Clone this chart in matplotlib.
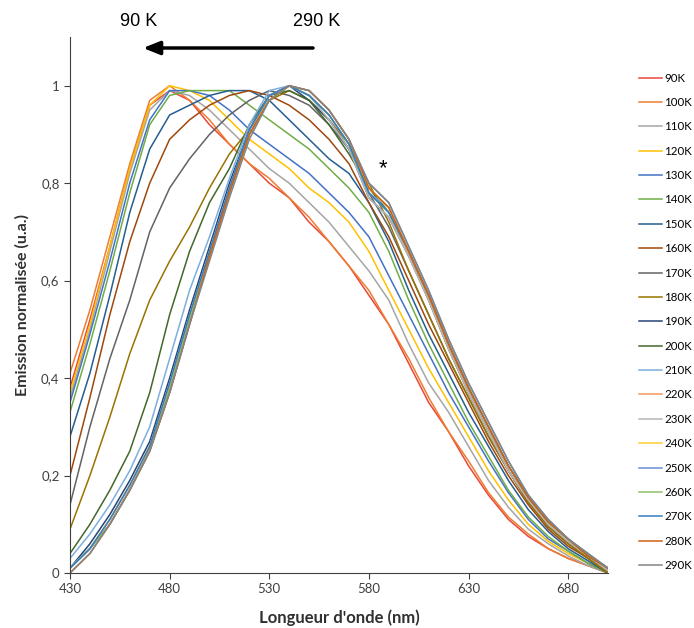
import matplotlib.pyplot as plt

# wavelengths (nm), values every 10 nm
wavelength = [430, 440, 450, 460, 470, 480, 490, 500, 510, 520, 530, 540, 550, 560,
              570, 580, 590, 600, 610, 620, 630, 640, 650, 660, 670, 680, 690, 700]

em_90 = [0.38, 0.52, 0.67, 0.83, 0.96, 0.99, 0.97, 0.92, 0.88, 0.84, 0.80, 0.77, 0.72, 0.68,
         0.63, 0.57, 0.51, 0.43, 0.35, 0.29, 0.22, 0.16, 0.11, 0.075, 0.05, 0.03, 0.015, 0.0]
em_100 = [0.41, 0.54, 0.69, 0.84, 0.97, 1.0, 0.97, 0.93, 0.88, 0.84, 0.81, 0.77, 0.73, 0.68,
          0.63, 0.58, 0.51, 0.44, 0.36, 0.29, 0.23, 0.165, 0.115, 0.08, 0.05, 0.03, 0.015, 0.0]
em_110 = [0.36, 0.50, 0.66, 0.82, 0.95, 0.99, 0.98, 0.95, 0.91, 0.87, 0.83, 0.80, 0.76, 0.72,
          0.67, 0.62, 0.56, 0.47, 0.39, 0.33, 0.26, 0.19, 0.135, 0.09, 0.06, 0.035, 0.015, 0.0]
em_120 = [0.37, 0.51, 0.67, 0.83, 0.96, 1.0, 0.99, 0.97, 0.93, 0.89, 0.86, 0.83, 0.79, 0.76,
          0.72, 0.66, 0.58, 0.50, 0.42, 0.35, 0.28, 0.21, 0.15, 0.10, 0.065, 0.04, 0.02, 0.0]
em_130 = [0.35, 0.49, 0.64, 0.80, 0.93, 0.99, 0.99, 0.98, 0.95, 0.91, 0.88, 0.85, 0.82, 0.78,
          0.74, 0.69, 0.61, 0.53, 0.45, 0.37, 0.30, 0.23, 0.165, 0.11, 0.07, 0.045, 0.02, 0.0]
em_140 = [0.33, 0.47, 0.62, 0.78, 0.92, 0.98, 0.99, 0.99, 0.99, 0.96, 0.93, 0.90, 0.87, 0.83,
          0.79, 0.74, 0.66, 0.56, 0.47, 0.39, 0.31, 0.24, 0.17, 0.115, 0.075, 0.045, 0.02, 0.0]
em_150 = [0.28, 0.41, 0.57, 0.74, 0.87, 0.94, 0.96, 0.98, 0.99, 0.99, 0.97, 0.93, 0.89, 0.85,
          0.82, 0.76, 0.68, 0.58, 0.49, 0.41, 0.33, 0.26, 0.19, 0.13, 0.085, 0.05, 0.025, 0.0]
em_160 = [0.20, 0.36, 0.53, 0.68, 0.80, 0.89, 0.93, 0.96, 0.98, 0.99, 0.98, 0.96, 0.93, 0.89,
          0.84, 0.76, 0.69, 0.60, 0.51, 0.43, 0.35, 0.27, 0.20, 0.14, 0.09, 0.055, 0.03, 0.0]
em_170 = [0.14, 0.30, 0.44, 0.56, 0.70, 0.79, 0.85, 0.90, 0.94, 0.97, 0.99, 0.98, 0.96, 0.92,
          0.87, 0.78, 0.71, 0.62, 0.53, 0.44, 0.36, 0.28, 0.21, 0.145, 0.095, 0.06, 0.03, 0.0]
em_180 = [0.09, 0.20, 0.32, 0.45, 0.56, 0.64, 0.71, 0.79, 0.86, 0.91, 0.97, 0.99, 0.97, 0.93,
          0.88, 0.80, 0.72, 0.62, 0.53, 0.44, 0.36, 0.28, 0.21, 0.145, 0.095, 0.06, 0.03, 0.0]
em_190 = [0.01, 0.06, 0.12, 0.19, 0.27, 0.40, 0.54, 0.67, 0.80, 0.91, 0.98, 1.0, 0.97, 0.93,
          0.87, 0.77, 0.73, 0.65, 0.56, 0.46, 0.37, 0.29, 0.21, 0.15, 0.10, 0.065, 0.035, 0.005]
em_200 = [0.04, 0.10, 0.17, 0.25, 0.37, 0.53, 0.66, 0.76, 0.83, 0.92, 0.98, 0.99, 0.97, 0.92,
          0.86, 0.79, 0.74, 0.66, 0.56, 0.46, 0.37, 0.29, 0.21, 0.15, 0.10, 0.065, 0.035, 0.005]
em_210 = [0.03, 0.08, 0.14, 0.21, 0.30, 0.44, 0.58, 0.69, 0.81, 0.92, 0.99, 1.0, 0.98, 0.94,
          0.88, 0.78, 0.75, 0.66, 0.57, 0.47, 0.38, 0.30, 0.22, 0.155, 0.105, 0.07, 0.035, 0.01]
em_220 = [0.01, 0.05, 0.11, 0.18, 0.26, 0.38, 0.52, 0.66, 0.79, 0.90, 0.98, 1.0, 0.98, 0.94,
          0.88, 0.78, 0.74, 0.65, 0.56, 0.46, 0.37, 0.29, 0.21, 0.15, 0.10, 0.065, 0.035, 0.005]
em_230 = [0.01, 0.05, 0.11, 0.18, 0.26, 0.39, 0.53, 0.66, 0.79, 0.91, 0.98, 1.0, 0.98, 0.93,
          0.87, 0.77, 0.73, 0.65, 0.56, 0.46, 0.37, 0.29, 0.21, 0.15, 0.10, 0.065, 0.035, 0.005]
em_240 = [0.01, 0.05, 0.11, 0.18, 0.26, 0.38, 0.52, 0.65, 0.78, 0.90, 0.97, 1.0, 0.99, 0.95,
          0.89, 0.79, 0.75, 0.66, 0.57, 0.47, 0.38, 0.30, 0.22, 0.155, 0.105, 0.07, 0.035, 0.01]
em_250 = [0.01, 0.05, 0.10, 0.17, 0.25, 0.37, 0.51, 0.65, 0.78, 0.90, 0.97, 1.0, 0.99, 0.95,
          0.89, 0.80, 0.76, 0.67, 0.58, 0.48, 0.39, 0.31, 0.23, 0.16, 0.11, 0.07, 0.04, 0.01]
em_260 = [0.01, 0.05, 0.10, 0.17, 0.25, 0.38, 0.52, 0.65, 0.78, 0.90, 0.97, 1.0, 0.98, 0.94,
          0.88, 0.78, 0.74, 0.66, 0.57, 0.47, 0.38, 0.30, 0.22, 0.155, 0.105, 0.07, 0.035, 0.01]
em_270 = [0.01, 0.05, 0.11, 0.18, 0.26, 0.39, 0.53, 0.66, 0.79, 0.91, 0.98, 1.0, 0.98, 0.94,
          0.88, 0.78, 0.74, 0.66, 0.57, 0.47, 0.38, 0.30, 0.22, 0.155, 0.105, 0.07, 0.035, 0.01]
em_280 = [0.0, 0.04, 0.10, 0.17, 0.25, 0.37, 0.51, 0.65, 0.78, 0.90, 0.97, 1.0, 0.99, 0.95,
          0.89, 0.79, 0.75, 0.66, 0.57, 0.47, 0.38, 0.30, 0.22, 0.155, 0.105, 0.07, 0.035, 0.01]
em_290 = [0.0, 0.04, 0.10, 0.17, 0.25, 0.37, 0.51, 0.64, 0.77, 0.89, 0.97, 1.0, 0.99, 0.95,
          0.89, 0.80, 0.76, 0.67, 0.58, 0.48, 0.39, 0.31, 0.23, 0.16, 0.11, 0.07, 0.04, 0.01]

labels = ['90K', '100K', '110K', '120K', '130K', '140K', '150K', '160K', '170K', '180K', '190K',
          '200K', '210K', '220K', '230K', '240K', '250K', '260K', '270K', '280K', '290K']
spectra = [em_90, em_100, em_110, em_120, em_130, em_140, em_150, em_160, em_170, em_180, em_190,
           em_200, em_210, em_220, em_230, em_240, em_250, em_260, em_270, em_280, em_290]
colors = ['#E8473A', '#ED7D31', '#A5A5A5', '#FFC000', '#4472C4', '#70AD47', '#255E91',
          '#9E480E', '#636363', '#997300', '#264478', '#43682B', '#7CAFDD', '#F1975A',
          '#B7B7B7', '#FFCD33', '#698ED0', '#8CC168', '#327DC2', '#D26012', '#848484']

plt.rcParams['font.family'] = ['Lato', 'DejaVu Sans']

fig = plt.figure(figsize=(6.94, 6.28), dpi=100)
ax = fig.add_axes([70 / 694, 1 - 573 / 628, 538 / 694, 536 / 628])

for y, lab, c in zip(spectra, labels, colors):
    ax.plot(wavelength, y, color=c, lw=1.1, label=lab)

ax.set_xlim(430, 700)
ax.set_ylim(0, 1.1)
ax.set_xticks([430, 480, 530, 580, 630, 680])
ax.set_yticks([0, 0.2, 0.4, 0.6, 0.8, 1.0])
ax.set_yticklabels(['0', '0,2', '0,4', '0,6', '0,8', '1'])
ax.spines['top'].set_visible(False)
ax.spines['right'].set_visible(False)
ax.spines['left'].set_color('#404040')
ax.spines['bottom'].set_color('#404040')
ax.tick_params(direction='out', length=4, width=0.8, color='#404040', labelsize=9.5,
               labelcolor='#404040')
ax.set_xlabel("Longueur d'onde (nm)", fontsize=12, fontweight='bold', color='#303030',
              labelpad=10)
ax.set_ylabel('Emission normalisée (u.a.)', fontsize=11.5, fontweight='bold', color='#303030',
              labelpad=8)

# asterisk over the spike near 585 nm
ax.text(587, 0.83, '*', fontsize=16, ha='center', va='center', family='Liberation Sans')

# temperature arrow above the plot
fig.text(139 / 694, 1 - 22 / 628, '90 K', fontsize=13, ha='center', va='center',
         family='Liberation Sans')
fig.text(317 / 694, 1 - 22 / 628, '290 K', fontsize=13, ha='center', va='center',
         family='Liberation Sans')
ax.annotate('', xy=(143 / 694, 1 - 48 / 628), xytext=(313 / 694, 1 - 48 / 628),
            xycoords='figure fraction', textcoords='figure fraction',
            arrowprops=dict(arrowstyle='-|>,head_length=1.0,head_width=0.4', lw=2.5,
                            color='black', shrinkA=0, shrinkB=0))

ax.legend(loc='upper left', bbox_to_anchor=(634 / 694, 1 - 68 / 628),
          bbox_transform=fig.transFigure, frameon=False, fontsize=8.3,
          handlelength=2.0, handletextpad=0.2, labelspacing=1.16, borderaxespad=0)

plt.savefig('out.png', dpi=100)
